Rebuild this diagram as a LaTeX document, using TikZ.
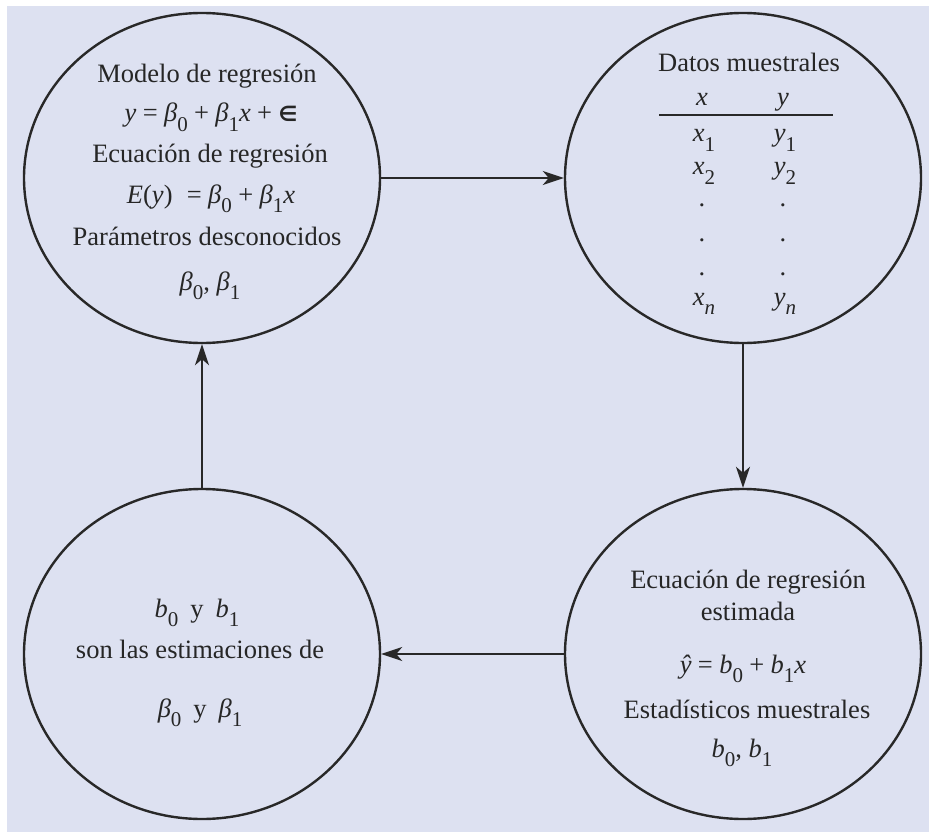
\documentclass[tikz,border=0pt]{standalone}
\usepackage{amsmath}
\usepackage{fontspec}
\setmainfont{Liberation Serif}
\newfontfamily\symfont{DejaVu Sans}
\usetikzlibrary{arrows.meta,shapes.geometric}
\definecolor{bgblue}{RGB}{221,225,241}
\definecolor{ink}{RGB}{40,40,40}
\definecolor{txt}{RGB}{38,38,38}
\newcommand\sbx[1]{\raisebox{-0.36em}{\fontsize{21}{21}\selectfont\upshape #1}}
\newcommand\iv[1]{{\itshape #1}}
\newcommand\op[1]{\hspace{0.24em}#1\hspace{0.24em}}
\newcommand\epsbold{{\symfont\bfseries\fontsize{21}{21}\selectfont ∈}}
\tikzset{
  circ/.style={draw=ink, line width=2.4pt, ellipse, minimum width=356pt, minimum height=330pt, inner sep=0pt},
  arr/.style={draw=ink, line width=2.2pt, -{Stealth[length=21pt,width=14pt,inset=6pt]}},
  lbl/.style={anchor=base, inner sep=0pt, text=txt, font=\fontsize{26.5}{30}\selectfont},
}
\begin{document}
\begin{tikzpicture}[x=1pt,y=-1pt]
\useasboundingbox (0,0) rectangle (929,832);
\fill[bgblue] (7,6) rectangle (929,832);
% circles
\node[circ] (TL) at (202,178) {};
\node[circ] (TR) at (743,178) {};
\node[circ] (BL) at (202,654) {};
\node[circ] (BR) at (743,654) {};
% arrows
\draw[arr] (TL.east) -- (TR.west);
\draw[arr] (TR.south) -- (BR.north);
\draw[arr] (BR.west) -- (BL.east);
\draw[arr] (BL.north) -- (TL.south);
% top-left text
\node[lbl] (a1) at (207,83) {Modelo de regresión};
\node[lbl] (a2) at (211,122) {\iv{y}\op{=}\iv{β}\sbx{0}\op{+}\iv{β}\sbx{1}\iv{x}\op{+}\epsbold};
\node[lbl] (a3) at (210,163) {Ecuación de regresión};
\node[lbl] (a4) at (211,203) {\iv{E}(\iv{y})\hspace{0.3em}\op{=}\iv{β}\sbx{0}\op{+}\iv{β}\sbx{1}\iv{x}};
\node[lbl] (a5) at (207,245) {Parámetros desconocidos};
\node[lbl] (a6) at (210,290) {\iv{β}\sbx{0}, \iv{β}\sbx{1}};
% top-right text
\node[lbl] (d1) at (749,72) {Datos muestrales};
\node[lbl] (dx) at (702,106) {\iv{x}};
\node[lbl] (dy) at (783,106) {\iv{y}};
\draw[ink, line width=2.2pt] (659,115) -- (833,115);
\node[lbl] (x1) at (704,142) {\iv{x}\sbx{1}};
\node[lbl] (y1) at (785,142) {\iv{y}\sbx{1}};
\node[lbl] (x2) at (704,175) {\iv{x}\sbx{2}};
\node[lbl] (y2) at (785,175) {\iv{y}\sbx{2}};
\node[lbl] (xd1) at (702,206) {.};
\node[lbl] (yd1) at (783,206) {.};
\node[lbl] (xd2) at (702,241) {.};
\node[lbl] (yd2) at (783,241) {.};
\node[lbl] (xd3) at (702,275) {.};
\node[lbl] (yd3) at (783,275) {.};
\node[lbl] (xn) at (704,305) {\iv{x}\sbx{\iv{n}}};
\node[lbl] (yn) at (785,305) {\iv{y}\sbx{\iv{n}}};
% bottom-left text
\node[lbl] (c1) at (197,617) {\iv{b}\sbx{0}\hspace{0.45em}y\hspace{0.45em}\iv{b}\sbx{1}};
\node[lbl] (c2) at (200,658) {son las estimaciones de};
\node[lbl] (c3) at (200,717) {\iv{β}\sbx{0}\hspace{0.45em}y\hspace{0.45em}\iv{β}\sbx{1}};
% bottom-right text
\node[lbl] (e1) at (748,588) {Ecuación de regresión};
\node[lbl] (e2) at (748,620) {estimada};
\node[lbl] (e3) at (743,673) {\iv{ŷ}\op{=}\iv{b}\sbx{0}\op{+}\iv{b}\sbx{1}\iv{x}};
\node[lbl] (e4) at (747,718) {Estadísticos muestrales};
\node[lbl] (e5) at (742,757) {\iv{b}\sbx{0}, \iv{b}\sbx{1}};
\end{tikzpicture}
\end{document}
